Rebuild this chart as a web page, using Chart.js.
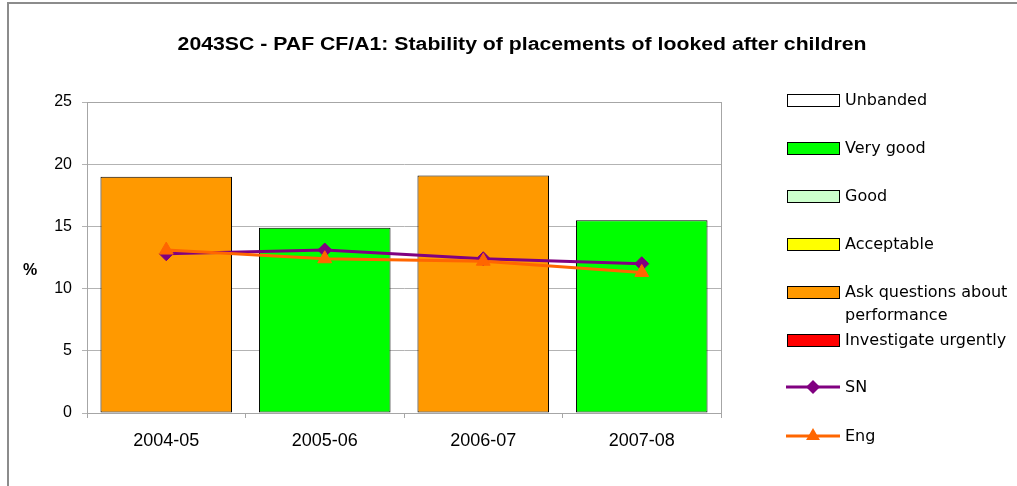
<!DOCTYPE html>
<html>
<head>
<meta charset="utf-8">
<script src="https://cdn.jsdelivr.net/npm/chart.js@4"></script>
<style>
  html, body { margin: 0; padding: 0; background: #fff; }
  #wrap { width: 1017px; height: 486px; position: relative; }
</style>
</head>
<body>
<div id="wrap"><canvas id="chart" width="1017" height="486"></canvas></div>
<script>
// data
const categories = ["2004-05", "2005-06", "2006-07", "2007-08"];
const pafValues = [19.0, 14.9, 19.1, 15.5];
const pafBands = ["Ask questions about performance", "Very good", "Ask questions about performance", "Very good"];
const snValues = [12.8, 13.1, 12.4, 12.0];
const engValues = [13.1, 12.4, 12.2, 11.3];
const yTicks = [0, 5, 10, 15, 20, 25];

const bandNames = ["Unbanded", "Very good", "Good", "Acceptable", "Ask questions about performance", "Investigate urgently"];
const bandColours = ["#ffffff", "#00ff00", "#ccffcc", "#ffff00", "#ff9900", "#ff0000"];

const FONT = "'Liberation Sans', Arial, sans-serif";
const LEGEND_FONT = "'DejaVu Sans', Tahoma, sans-serif";

// one bar dataset per band, null where the year is in another band
const bandSets = bandNames.map((name, i) => ({
  type: "bar",
  label: name,
  data: pafValues.map((v, j) => (pafBands[j] === name ? v : null)),
  backgroundColor: bandColours[i],
  borderColor: "#000000",
  borderWidth: 1,
  borderSkipped: false,
  order: 2,
}));

const lineSets = [
  {
    type: "line",
    label: "SN",
    data: snValues,
    borderColor: "#800080",
    backgroundColor: "#800080",
    borderWidth: 3,
    pointStyle: "rectRot",
    pointRadius: 7,
    pointBorderWidth: 1,
    tension: 0,
    order: 1,
  },
  {
    type: "line",
    label: "Eng",
    data: engValues,
    borderColor: "#ff6600",
    backgroundColor: "#ff6600",
    borderWidth: 3,
    pointStyle: "triangle",
    pointRadius: 8,
    pointBorderWidth: 1,
    tension: 0,
    order: 0,
  },
];

// title, "%" label, plot frame, outer frame and the legend
const decor = {
  id: "decor",
  afterDraw(chart) {
    const ctx = chart.ctx;
    const a = chart.chartArea;
    ctx.save();

    ctx.strokeStyle = "#8c8c8c";
    ctx.lineWidth = 2;
    ctx.strokeRect(8, 3, 1017, 490);

    ctx.strokeStyle = "#a6a6a6";
    ctx.lineWidth = 1;
    ctx.strokeRect(a.left + 0.5, a.top + 0.5, a.right - a.left, a.bottom - a.top);

    // title is drawn a bit wider than plain Arial, like the original
    ctx.fillStyle = "#000";
    ctx.font = "bold 18px " + FONT;
    ctx.textAlign = "center";
    ctx.textBaseline = "middle";
    ctx.save();
    ctx.translate(522, 45);
    ctx.scale(1.18, 1);
    ctx.fillText("2043SC - PAF CF/A1: Stability of placements of looked after children", 0, 0);
    ctx.restore();

    ctx.font = "bold 16px " + FONT;
    ctx.fillText("%", 30, 271);

    // legend
    ctx.font = "16px " + LEGEND_FONT;
    ctx.textAlign = "left";
    const rows = [100, 148, 196, 244, 292, 340, 387, 436];
    const x0 = 787, x1 = 839, tx = 845;
    chart.data.datasets.forEach((ds, i) => {
      const y = rows[i];
      if (ds.type === "bar") {
        ctx.fillStyle = ds.backgroundColor;
        ctx.fillRect(x0, y - 6, x1 - x0, 12);
        ctx.strokeStyle = "#000";
        ctx.lineWidth = 1;
        ctx.strokeRect(x0 + 0.5, y - 6 + 0.5, x1 - x0, 12);
      } else {
        ctx.strokeStyle = ds.borderColor;
        ctx.lineWidth = 3;
        ctx.beginPath();
        ctx.moveTo(x0 - 1, y);
        ctx.lineTo(x1 + 1, y);
        ctx.stroke();
        ctx.fillStyle = ds.backgroundColor;
        Chart.helpers.drawPoint(ctx, { pointStyle: ds.pointStyle, radius: ds.pointRadius, rotation: 0, borderWidth: 0 }, (x0 + x1) / 2, y);
      }
      ctx.fillStyle = "#000";
      if (ds.label === "Ask questions about performance") {
        ctx.fillText("Ask questions about", tx, y + 1);
        ctx.fillText("performance", tx, y + 24);
      } else {
        ctx.fillText(ds.label, tx, y + 1);
      }
    });
    ctx.restore();
  },
};

new Chart(document.getElementById("chart"), {
  data: { labels: categories, datasets: [...bandSets, ...lineSets] },
  options: {
    responsive: false,
    animation: false,
    layout: { padding: { top: 102, right: 296, bottom: 0, left: 0 } },
    datasets: {
      bar: { skipNull: true, barPercentage: 0.83, categoryPercentage: 1 },
    },
    scales: {
      x: {
        grid: { drawOnChartArea: false, drawTicks: true, tickLength: 5, color: "#a6a6a6", offset: true },
        border: { color: "#a6a6a6" },
        ticks: { color: "#000", font: { family: FONT, size: 18 }, padding: 12, maxRotation: 0 },
        afterFit(scale) { scale.height = 73; },
      },
      y: {
        min: 0,
        max: 25,
        afterBuildTicks(scale) { scale.ticks = yTicks.map(v => ({ value: v })); },
        grid: { color: "#b3b3b3", tickLength: 5 },
        border: { color: "#a6a6a6" },
        ticks: { color: "#000", font: { family: FONT, size: 16 }, padding: 10 },
        afterFit(scale) { scale.width = 87; },
      },
    },
    plugins: {
      legend: { display: false },
      tooltip: { enabled: false },
    },
  },
  plugins: [decor],
});
</script>
</body>
</html>
